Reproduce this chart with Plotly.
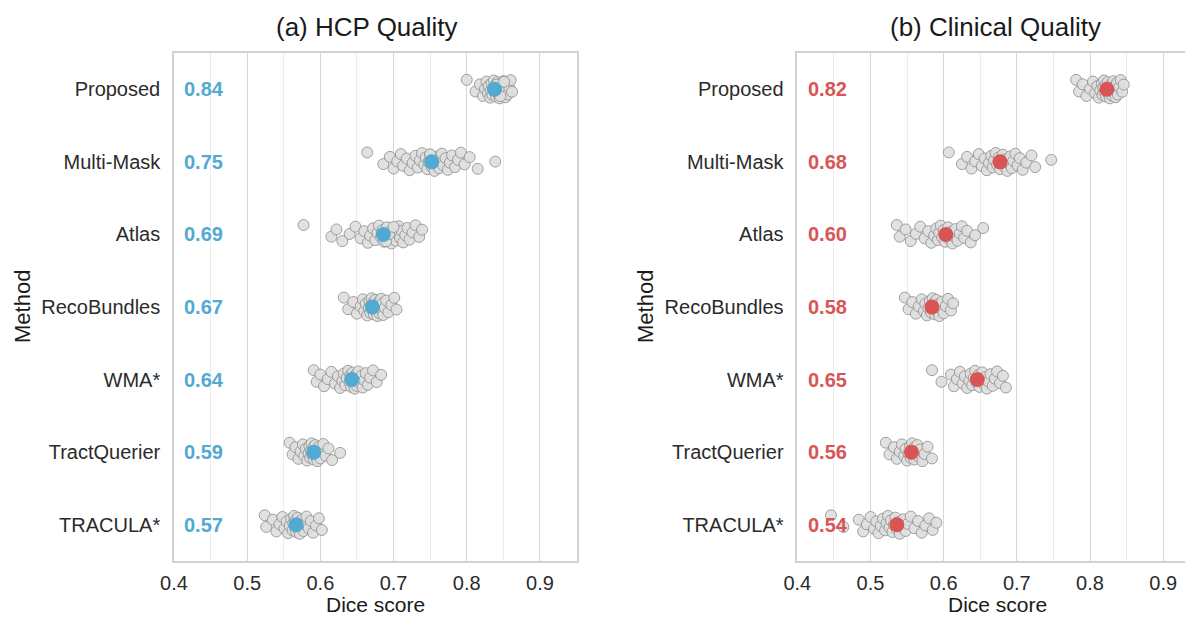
import plotly.graph_objects as go

methods = ["Proposed", "Multi-Mask", "Atlas", "RecoBundles", "WMA*", "TractQuerier", "TRACULA*"]

hcp_proposed = [0.800,0.812,0.818,0.822,0.825,0.827,0.829,0.830,0.832,0.833,0.834,0.835,0.836,0.837,0.838,0.839,0.840,0.841,0.842,0.843,0.844,0.845,0.846,0.847,0.848,0.849,0.850,0.851,0.852,0.853,0.854,0.855,0.856,0.858,0.860,0.862,0.841,0.846,0.838,0.851]
hcp_multimask = [0.664,0.686,0.695,0.700,0.705,0.710,0.713,0.718,0.722,0.726,0.730,0.733,0.736,0.739,0.742,0.744,0.746,0.748,0.750,0.752,0.754,0.756,0.758,0.760,0.762,0.764,0.766,0.768,0.771,0.774,0.777,0.780,0.784,0.788,0.792,0.797,0.804,0.815,0.839,0.750]
hcp_atlas = [0.577,0.615,0.622,0.630,0.640,0.648,0.655,0.660,0.665,0.668,0.672,0.675,0.678,0.680,0.683,0.685,0.687,0.689,0.691,0.693,0.695,0.697,0.699,0.701,0.703,0.705,0.707,0.709,0.711,0.713,0.716,0.719,0.722,0.726,0.730,0.735,0.739,0.690,0.694,0.700]
hcp_recobundles = [0.632,0.638,0.645,0.650,0.655,0.658,0.660,0.662,0.664,0.666,0.667,0.668,0.669,0.670,0.671,0.672,0.673,0.674,0.675,0.676,0.677,0.678,0.679,0.680,0.681,0.682,0.683,0.684,0.685,0.686,0.688,0.690,0.693,0.697,0.701,0.704]
hcp_wma = [0.591,0.595,0.600,0.605,0.610,0.615,0.620,0.624,0.627,0.630,0.632,0.634,0.636,0.638,0.640,0.641,0.642,0.643,0.644,0.645,0.646,0.647,0.648,0.649,0.650,0.651,0.652,0.654,0.656,0.658,0.660,0.662,0.665,0.668,0.672,0.677,0.683]
hcp_tractquerier = [0.558,0.562,0.566,0.570,0.573,0.576,0.578,0.580,0.582,0.584,0.585,0.586,0.587,0.588,0.589,0.590,0.591,0.592,0.593,0.594,0.595,0.596,0.597,0.598,0.600,0.602,0.604,0.607,0.611,0.616,0.627]
hcp_tracula = [0.524,0.526,0.535,0.540,0.544,0.548,0.551,0.554,0.556,0.558,0.560,0.562,0.563,0.564,0.565,0.566,0.567,0.568,0.569,0.570,0.571,0.572,0.573,0.575,0.577,0.579,0.581,0.584,0.587,0.590,0.594,0.598,0.602]
hcp_means = [0.838, 0.752, 0.686, 0.671, 0.643, 0.591, 0.567]

cli_proposed = [0.781,0.785,0.790,0.795,0.800,0.804,0.807,0.810,0.812,0.814,0.816,0.817,0.818,0.819,0.820,0.821,0.822,0.823,0.824,0.825,0.826,0.827,0.828,0.829,0.830,0.831,0.832,0.833,0.834,0.835,0.836,0.837,0.838,0.840,0.842,0.844,0.846]
cli_multimask = [0.607,0.625,0.632,0.638,0.643,0.648,0.652,0.656,0.659,0.662,0.665,0.667,0.669,0.671,0.673,0.675,0.677,0.679,0.681,0.683,0.685,0.687,0.689,0.691,0.693,0.695,0.698,0.701,0.704,0.708,0.713,0.720,0.725,0.747]
cli_atlas = [0.536,0.540,0.548,0.555,0.562,0.568,0.574,0.579,0.583,0.587,0.590,0.592,0.594,0.596,0.598,0.600,0.602,0.604,0.606,0.608,0.610,0.612,0.614,0.616,0.619,0.622,0.625,0.628,0.632,0.637,0.643,0.654]
cli_recobundles = [0.547,0.552,0.557,0.562,0.566,0.570,0.573,0.575,0.577,0.579,0.581,0.583,0.584,0.585,0.586,0.587,0.588,0.589,0.590,0.591,0.592,0.594,0.596,0.598,0.600,0.603,0.606,0.610,0.613]
cli_wma = [0.584,0.597,0.610,0.614,0.618,0.622,0.626,0.629,0.632,0.635,0.637,0.639,0.641,0.643,0.645,0.647,0.649,0.651,0.653,0.655,0.657,0.659,0.661,0.664,0.667,0.670,0.673,0.677,0.681,0.685]
cli_tractquerier = [0.521,0.526,0.532,0.536,0.540,0.543,0.546,0.548,0.550,0.552,0.554,0.555,0.556,0.557,0.558,0.559,0.560,0.562,0.564,0.566,0.568,0.571,0.574,0.578,0.584]
cli_tracula = [0.446,0.463,0.484,0.490,0.495,0.500,0.505,0.508,0.511,0.514,0.517,0.520,0.522,0.524,0.526,0.528,0.530,0.532,0.534,0.536,0.538,0.540,0.542,0.545,0.548,0.551,0.555,0.560,0.565,0.570,0.575,0.580,0.585,0.590]
cli_means = [0.823, 0.677, 0.603, 0.584, 0.646, 0.556, 0.536]

x_ticks = [0.4, 0.5, 0.6, 0.7, 0.8, 0.9]
x_tick_labels = ["0.4", "0.5", "0.6", "0.7", "0.8", "0.9"]

hcp_groups = [hcp_proposed, hcp_multimask, hcp_atlas, hcp_recobundles, hcp_wma, hcp_tractquerier, hcp_tracula]
cli_groups = [cli_proposed, cli_multimask, cli_atlas, cli_recobundles, cli_wma, cli_tractquerier, cli_tracula]

BLUE = "#52a9d2"
RED = "#d95555"
FONT = "Liberation Sans, Arial, sans-serif"
TXT = "#2b2b2b"

W, H = 1185, 617
def px(v):
    return v / W
def py(v):
    return 1 - v / H

fig = go.Figure()

panels = [
    (hcp_groups, hcp_means, BLUE, "x", "y"),
    (cli_groups, cli_means, RED, "x2", "y2"),
]

for groups, means, color, xa, ya in panels:
    for gi, vals in enumerate(groups):
        ys = [gi + ((i * 0.618034) % 1 - 0.5) * 0.26 for i in range(len(vals))]
        fig.add_trace(go.Scatter(
            x=vals, y=ys, mode="markers", xaxis=xa, yaxis=ya, showlegend=False,
            marker=dict(size=11, color="rgba(222,222,222,0.92)",
                        line=dict(color="#8c8c8c", width=0.8)),
            hoverinfo="x"))
    fig.add_trace(go.Scatter(
        x=means, y=list(range(len(means))), mode="markers", xaxis=xa, yaxis=ya,
        showlegend=False, marker=dict(size=15, color=color, line=dict(width=0)),
        hoverinfo="x"))
    for gi, m in enumerate(means):
        fig.add_annotation(x=0.4115, y=gi, xref=xa, yref=ya, text=f"<b>{m:.2f}</b>",
                           showarrow=False, xanchor="left", yanchor="middle",
                           font=dict(size=20, color=color, family=FONT))

ydom = [py(561), py(53)]
common_x = dict(
    tickvals=x_ticks, ticktext=x_tick_labels, showgrid=True, gridcolor="#d6d6d6",
    gridwidth=1.2, zeroline=False, showline=True, linecolor="#d2d2d2", linewidth=1.5,
    mirror=True, ticks="", tickfont=dict(size=20, color=TXT, family=FONT),
    ticklabelstandoff=3, automargin=False,
    minor=dict(dtick=0.05, tick0=0.45, showgrid=True, gridcolor="#ececec", gridwidth=1),
)
common_y = dict(
    tickvals=list(range(len(methods))), ticktext=methods, range=[6.5, -0.5],
    showgrid=False, zeroline=False, showline=True, linecolor="#d2d2d2", linewidth=1.5,
    ticks="", tickfont=dict(size=20, color=TXT, family=FONT), ticklabelstandoff=8,
    automargin=False,
)

fig.update_layout(
    width=W, height=H, margin=dict(l=0, r=0, t=0, b=0, autoexpand=False),
    paper_bgcolor="white", plot_bgcolor="white",
    xaxis=dict(domain=[px(174), px(576.5)], range=[0.4, 0.95], anchor="y", **common_x),
    yaxis=dict(domain=ydom, anchor="x", mirror=True, **common_y),
    xaxis2=dict(domain=[px(797.3), 1.0], range=[0.4, 0.9298], anchor="y2", **common_x),
    yaxis2=dict(domain=ydom, anchor="x2", mirror=False, **common_y),
    font=dict(family=FONT, color=TXT),
)

def ann(text, x, y, size, angle=0, yanchor="middle"):
    fig.add_annotation(x=px(x), y=py(y), xref="paper", yref="paper", text=text,
                       showarrow=False, xanchor="center", yanchor=yanchor,
                       textangle=angle, borderpad=0,
                       font=dict(size=size, color="#1a1a1a", family=FONT))

ann("(a) HCP Quality", 367, 27, 26)
ann("(b) Clinical Quality", 995, 27, 26)
ann("Dice score", 375, 617, 21, yanchor="bottom")
ann("Dice score", 997, 617, 21, yanchor="bottom")
ann("Method", 22, 307, 22, -90)
ann("Method", 645, 307, 22, -90)

fig.write_html("out.html")
